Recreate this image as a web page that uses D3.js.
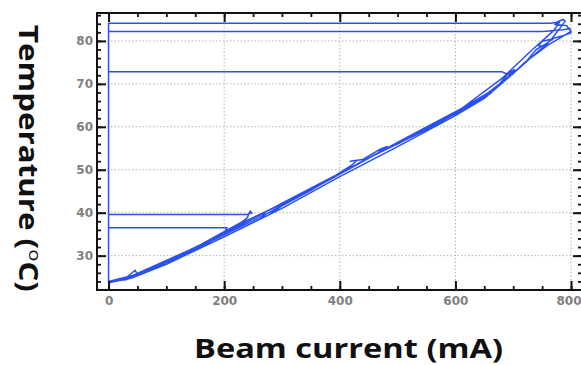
<!DOCTYPE html>
<html><head><meta charset="utf-8">
<script src="https://cdn.jsdelivr.net/npm/d3@7"></script>
<style>body{margin:0;background:#fff}svg{display:block}</style>
</head><body><svg id="c" width="581" height="365"></svg>
<script>
// Tick values
const xTicks = [0, 200, 400, 600, 800];
const yTicks = [30, 40, 50, 60, 70, 80];
const xTitle = "Beam current (mA)";
const yTitle = "Temperature (";

const beamCurrent = [
  0, 10, 30, 46, 50, 80, 120, 160, 200, 230, 240, 245, 248, 240, 0, 0,
  40, 100, 150, 200, 205, 0, 0,
  30, 80, 150, 200, 250, 270, 265, 275, 300, 350, 380, 420, 430, 418, 440, 470, 482, 468, 500, 550, 600, 612, 598, 650, 662, 648, 670, 690, 702, 694, 681, 0, 0,
  30, 90, 160, 230, 300, 370, 440, 520, 600, 660, 700, 720, 740, 760, 755, 744, 750, 766, 780, 790, 786, 774, 764, 0, 0,
  60, 150, 260, 360, 460, 560, 640, 700, 740, 760, 752, 770, 786, 800, 798, 786, 752, 0, 0,
  40, 120, 220, 320, 420, 520, 610, 680, 730, 770, 780, 772, 792, 800, 790, 760, 720, 700, 650, 600, 500, 400, 300, 200, 100, 40, 0
];
const temperature = [
  24.0, 24.2, 24.8, 26.6, 25.6, 27.4, 30.0, 32.6, 35.6, 37.8, 38.8, 40.4, 39.9, 39.6, 39.6, 24.0,
  25.3, 28.9, 31.9, 35.3, 36.5, 36.5, 24.0,
  24.6, 27.2, 31.4, 35.0, 38.6, 39.9, 39.0, 39.3, 41.6, 45.2, 47.6, 51.0, 52.2, 52.0, 52.4, 54.8, 55.4, 54.3, 56.0, 59.5, 63.0, 63.7, 62.8, 67.0, 67.9, 66.6, 69.0, 72.2, 73.3, 72.0, 72.8, 72.8, 24.0,
  24.4, 27.9, 32.2, 37.6, 42.0, 46.8, 52.0, 57.6, 63.4, 68.2, 72.6, 74.8, 78.0, 79.6, 78.7, 78.9, 79.9, 80.4, 82.8, 84.6, 85.0, 84.3, 84.1, 84.1, 24.0,
  26.0, 31.6, 38.8, 46.0, 53.4, 60.0, 66.2, 72.4, 77.2, 79.4, 78.9, 80.6, 81.2, 81.9, 82.9, 82.6, 82.2, 82.2, 24.0,
  25.0, 29.8, 36.6, 43.6, 50.6, 57.8, 64.2, 71.2, 77.6, 82.4, 84.4, 83.8, 83.6, 82.2, 81.4, 79.0, 75.0, 72.4, 66.6, 62.6, 55.4, 48.4, 41.0, 34.4, 28.0, 24.8, 23.7
];

const svg = d3.select("#c");
const L = 97, T = 13, R = 582, B = 290;
const x = d3.scaleLinear().domain([-20, 819]).range([L, R]);
const y = d3.scaleLinear().domain([22, 86.5]).range([B, T]);

// grid
const g = svg.append("g");
g.selectAll(".gx").data(xTicks).enter().append("line")
  .attr("x1", d => x(d)).attr("x2", d => x(d)).attr("y1", T).attr("y2", B)
  .attr("stroke", "#b4b4b4").attr("stroke-width", 1).attr("stroke-dasharray", "1.5,2");
g.selectAll(".gy").data(yTicks).enter().append("line")
  .attr("y1", d => y(d)).attr("y2", d => y(d)).attr("x1", L).attr("x2", R)
  .attr("stroke", "#b4b4b4").attr("stroke-width", 1).attr("stroke-dasharray", "1.5,2");

// trace
const line = d3.line().x(d => x(d[0])).y(d => y(d[1]));
const pts = beamCurrent.map((c, i) => [c, temperature[i]]);
svg.append("path").attr("d", line(pts)).attr("fill", "none")
  .attr("stroke", "#2b50f2").attr("stroke-width", 1.5).attr("stroke-linejoin", "round");

// axes with inward ticks
const minorX = d3.range(0, 801, 50);
const minorY = d3.range(24, 87, 2);
function tickAxis(makeGen, transform, minor, major) {
  const a = svg.append("g").attr("transform", transform);
  a.call(makeGen().tickValues(minor).tickSize(4).tickFormat(""));
  a.select(".domain").remove();
  a.selectAll("line").attr("stroke", "#111").attr("stroke-width", 1.8);
  const b = svg.append("g").attr("transform", transform);
  b.call(makeGen().tickValues(major).tickSize(9).tickFormat(d3.format("d")));
  b.select(".domain").remove();
  b.selectAll("line").attr("stroke", "#111").attr("stroke-width", 2);
  return b;
}
const bx = tickAxis(() => d3.axisTop(x), `translate(0,${B})`, minorX, xTicks);
bx.selectAll("text").attr("y", 6).attr("dy", "0.71em");
bx.selectAll("text").filter(d => d === 800).attr("text-anchor", "end").attr("x", 10);
tickAxis(() => d3.axisBottom(x), `translate(0,${T})`, minorX, xTicks).selectAll("text").remove();
const by = tickAxis(() => d3.axisRight(y), `translate(${L},0)`, minorY, yTicks);
by.selectAll("text").attr("x", -4).attr("text-anchor", "end");
tickAxis(() => d3.axisLeft(y), `translate(${R},0)`, minorY, yTicks).selectAll("text").remove();

svg.selectAll(".tick text").attr("font-family", "DejaVu Sans").attr("font-weight", "bold")
  .attr("font-size", 12).attr("fill", "#808080");

// frame
svg.append("rect").attr("x", L).attr("y", T).attr("width", R - L).attr("height", B - T)
  .attr("fill", "none").attr("stroke", "#111").attr("stroke-width", 2);

// titles
svg.append("text").attr("x", 348.5).attr("y", 358).attr("text-anchor", "middle")
  .attr("font-family", "Open Sans").attr("font-weight", "bold").attr("font-size", 26).attr("fill", "#111")
  .attr("textLength", 309).attr("lengthAdjust", "spacingAndGlyphs")
  .text(xTitle);
const yt = svg.append("text").attr("transform", "translate(19,158.5) rotate(90)").attr("text-anchor", "middle")
  .attr("font-family", "Open Sans").attr("font-weight", "bold").attr("font-size", 26).attr("fill", "#111")
  .attr("textLength", 267).attr("lengthAdjust", "spacingAndGlyphs");
yt.append("tspan").text(yTitle);
yt.append("tspan").attr("font-size", 17).attr("font-weight", "normal").attr("dy", -10).text("o");
yt.append("tspan").attr("dy", 10).text("C)");
</script></body></html>
